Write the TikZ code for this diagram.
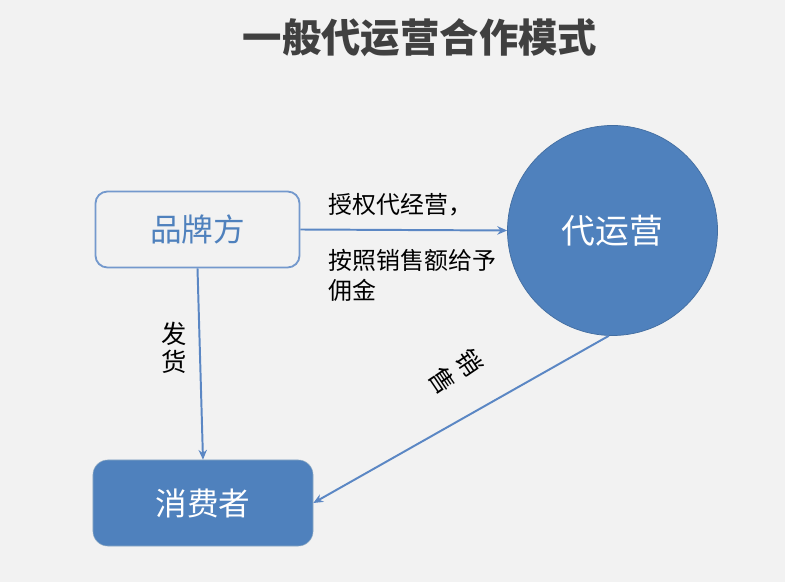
\documentclass[tikz,border=0pt]{standalone}
\usepackage{fontspec}
\setmainfont{Noto Sans CJK SC}
\usetikzlibrary{arrows.meta, positioning, calc}
\definecolor{bggray}{HTML}{F2F2F2}
\definecolor{boxblue}{HTML}{4F81BD}
\definecolor{edgeblue}{HTML}{41719C}
\definecolor{lineblue}{HTML}{5B87C4}
\definecolor{titlegray}{HTML}{404040}
\tikzset{
  brandbox/.style={
    draw=lineblue!85,
    line width=1.3pt,
    rectangle,
    rounded corners=0.3cm,
    minimum width=5.1cm,
    minimum height=1.9cm,
    text=boxblue,
    font=\fontsize{22.5}{26}\selectfont,
  },
  userbox/.style={
    draw=edgeblue!60,
    fill=boxblue,
    rectangle,
    rounded corners=0.37cm,
    minimum width=5.5cm,
    minimum height=2.15cm,
    text=white,
    font=\fontsize{22.5}{26}\selectfont,
  },
  agentcircle/.style={
    draw=boxblue!85!black,
    line width=0.5pt,
    fill=boxblue,
    circle,
    minimum size=5.25cm,
    text=white,
    font=\fontsize{24}{28}\selectfont,
  },
  lbl/.style={
    inner sep=0pt,
    align=left,
    font=\fontsize{17}{21}\selectfont,
  },
  arrow/.style={
    -{Stealth[length=7pt,width=6pt]},
    draw=lineblue,
    line width=1.4pt
  }
}

\begin{document}
\begin{tikzpicture}[x=0.025cm, y=-0.025cm]

% background
\fill[bggray] (0,0) rectangle (785,582);
\useasboundingbox (0,0) rectangle (785,582);

% title
\node[text=titlegray, font=\fontsize{28}{32}\selectfont\bfseries] (title) at (420,38) {一般代运营合作模式};

% parties
\node[brandbox] (brand) at (197.5,229.5) {品牌方};
\node[agentcircle] (agent) at (612.5,230.5) {代运营};
\node[userbox] (user) at (203,503) {消费者};

% flows
\draw[arrow] (brand.east) -- (agent.west);
\node[lbl, anchor=west] (grant) at ($(brand.east)+(28,-25)$) {授权代经营，};
\node[lbl, anchor=north west] (fee) at ($(brand.east)+(28,20)$) {按照销售额给予\\佣金};

\draw[arrow] (brand.south) -- (user.north);
\node[lbl, align=center, font=\fontsize{18}{20}\selectfont] (ship) at (174,348) {发\\货};

\draw[arrow] (agent.-92) -- (user.east);
\node[lbl, align=center, rotate=-56, font=\fontsize{18}{23}\selectfont] (sell) at (456,372) {销\\售};

\end{tikzpicture}
\end{document}
